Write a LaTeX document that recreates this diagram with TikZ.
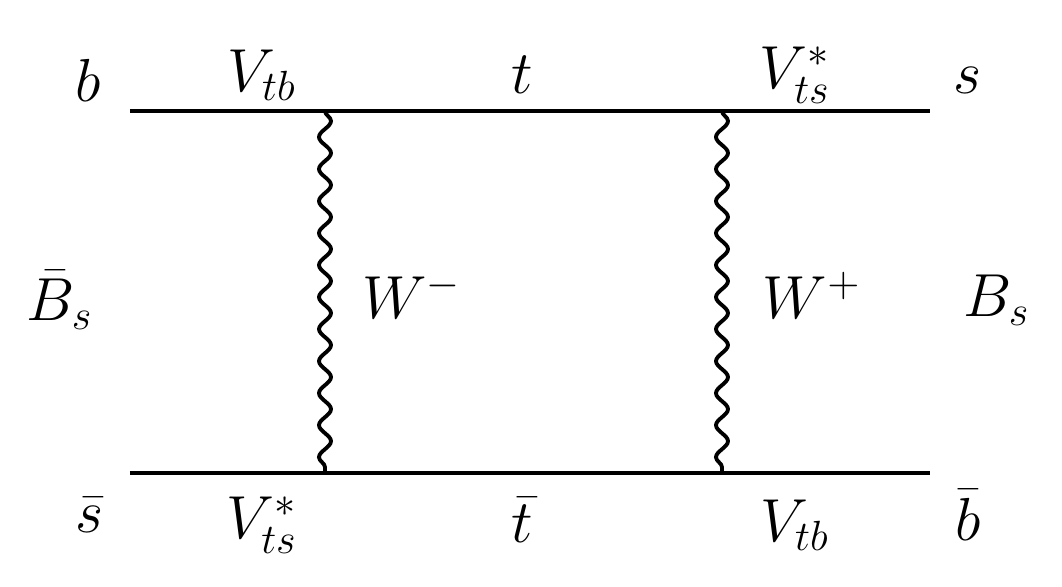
\documentclass[tikz,border=0pt]{standalone}
\usetikzlibrary{decorations.pathmorphing}
\begin{document}
\begin{tikzpicture}[x=0.01cm,y=0.01cm,
  lbl/.style={inner sep=0pt,font=\fontsize{17}{20}\selectfont},
  fermion/.style={line width=1.1pt},
  boson/.style={line width=1.1pt,decorate,decoration={snake,segment length=0.32cm,amplitude=0.06cm}}]
\useasboundingbox (0,0) rectangle (1062,587);
\coordinate (tl) at (130,476);
\coordinate (tr) at (930,476);
\coordinate (bl) at (130,114);
\coordinate (br) at (930,114);
\coordinate (v1) at (325,476);
\coordinate (v2) at (722,476);
\coordinate (v3) at (325,114);
\coordinate (v4) at (722,114);
\draw[fermion] (tl) -- (tr);
\draw[fermion] (bl) -- (br);
\draw[boson] (v1) -- (v3);
\draw[boson] (v2) -- (v4);
\node[lbl] (b) at (88,507) {$b$};
\node[lbl] (vtb1) at (262,512) {$V_{tb}$};
\node[lbl] (t) at (522,512) {$t$};
\node[lbl] (vts1) at (795,512) {$V_{ts}^{*}$};
\node[lbl] (s) at (968,507) {$s$};
\node[lbl] (Bbar) at (60,287) {$\bar{B}_s$};
\node[lbl] (Wm) at (412,292) {$W^{-}$};
\node[lbl] (Wp) at (812,292) {$W^{+}$};
\node[lbl] (B) at (997,287) {$B_s$};
\node[lbl] (sbar) at (90,72) {$\bar{s}$};
\node[lbl] (vts2) at (262,62) {$V_{ts}^{*}$};
\node[lbl] (tbar) at (522,67) {$\bar{t}$};
\node[lbl] (vtb2) at (795,62) {$V_{tb}$};
\node[lbl] (bbar) at (968,72) {$\bar{b}$};
\end{tikzpicture}
\end{document}
